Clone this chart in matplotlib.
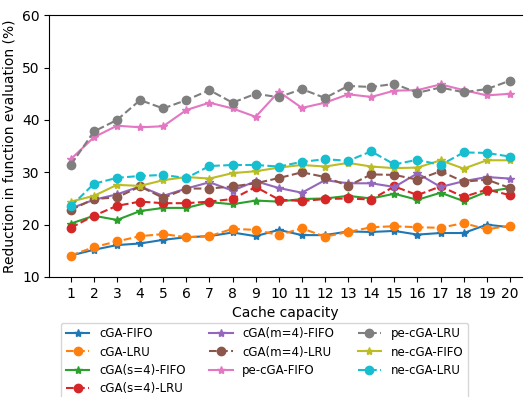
import matplotlib
matplotlib.use('Agg')
import matplotlib.pyplot as plt

capacity = list(range(1, 21))

cga_fifo = [14.1, 15.2, 16.1, 16.4, 17.1, 17.6, 17.8, 18.5, 17.8, 19.0,
            18.0, 18.0, 18.7, 18.6, 18.8, 18.1, 18.4, 18.4, 20.0, 19.5]
cga_lru = [14.1, 15.7, 16.8, 17.8, 18.2, 17.6, 17.8, 19.2, 19.0, 18.0,
           19.3, 17.7, 18.6, 19.5, 19.7, 19.5, 19.4, 20.3, 19.1, 19.8]
cga_s4_fifo = [20.2, 21.7, 20.9, 22.6, 23.2, 23.2, 24.3, 23.9, 24.6, 24.4,
               24.9, 25.0, 25.5, 25.0, 25.9, 24.75, 26.1, 24.5, 26.3, 27.0]
cga_s4_lru = [19.4, 21.7, 23.6, 24.4, 24.1, 24.1, 24.4, 24.9, 27.2, 24.8,
              24.5, 24.9, 25.0, 24.8, 27.3, 25.65, 27.3, 25.3, 26.7, 25.65]
cga_m4_fifo = [23.1, 24.75, 25.8, 27.3, 25.5, 26.9, 28.1, 26.5, 28.3, 27.0,
               26.1, 28.5, 27.9, 27.9, 27.2, 29.8, 27.2, 28.3, 29.1, 28.8]
cga_m4_lru = [22.8, 24.9, 25.2, 27.3, 25.1, 26.9, 26.9, 27.3, 27.9, 28.9,
              30.0, 29.1, 27.4, 29.6, 29.5, 28.6, 30.2, 28.2, 28.6, 27.0]
pe_fifo = [32.5, 36.7, 38.9, 38.6, 38.8, 41.9, 43.3, 42.2, 40.6, 45.4,
           42.3, 43.3, 44.9, 44.4, 45.6, 45.7, 46.8, 45.7, 44.7, 45.0]
pe_lru = [31.4, 37.8, 40.0, 43.8, 42.2, 43.8, 45.7, 43.3, 45.0, 44.35,
          45.9, 44.2, 46.5, 46.3, 46.9, 45.2, 46.2, 45.3, 45.9, 47.5]
ne_fifo = [24.4, 25.5, 27.6, 27.4, 28.5, 29.1, 28.8, 29.85, 30.2, 30.9,
           31.4, 31.1, 31.8, 31.1, 30.8, 30.9, 32.3, 30.7, 32.3, 32.3]
ne_lru = [23.5, 27.8, 28.95, 29.3, 29.5, 28.9, 31.2, 31.4, 31.4, 31.1,
          32.0, 32.5, 32.2, 34.0, 31.5, 32.4, 31.4, 33.8, 33.7, 33.0]

series = [
    ('cGA-FIFO', cga_fifo, 'tab:blue', '*', '-'),
    ('cGA-LRU', cga_lru, 'tab:orange', 'o', '--'),
    ('cGA(s=4)-FIFO', cga_s4_fifo, 'tab:green', '*', '-'),
    ('cGA(s=4)-LRU', cga_s4_lru, 'tab:red', 'o', '--'),
    ('cGA(m=4)-FIFO', cga_m4_fifo, 'tab:purple', '*', '-'),
    ('cGA(m=4)-LRU', cga_m4_lru, 'tab:brown', 'o', '--'),
    ('pe-cGA-FIFO', pe_fifo, 'tab:pink', '*', '-'),
    ('pe-cGA-LRU', pe_lru, 'tab:gray', 'o', '--'),
    ('ne-cGA-FIFO', ne_fifo, 'tab:olive', '*', '-'),
    ('ne-cGA-LRU', ne_lru, 'tab:cyan', 'o', '--'),
]

fig = plt.figure(figsize=(5.26, 3.97), dpi=100)
ax = fig.add_axes([0.0937, 0.3023, 0.9923 - 0.0937, 0.9615 - 0.3023])

for name, vals, col, mk, ls in series:
    ax.plot(capacity, vals, color=col, marker=mk, linestyle=ls, markersize=6, label=name)

ax.set_xlim(0.07, 20.52)
ax.set_ylim(10, 60)
ax.set_xticks(capacity)
ax.set_yticks([10, 20, 30, 40, 50, 60])
ax.spines['right'].set_visible(False)
ax.set_xlabel('Cache capacity')
ax.set_ylabel('Reduction in function evaluation (%)')

# legend sits under the axes, 3 columns
ax.legend(ncol=3, loc='upper left', bbox_to_anchor=(0.025, -0.174),
          fontsize=8.5, labelspacing=0.45, borderaxespad=0)

fig.savefig('out.png', dpi=100)
